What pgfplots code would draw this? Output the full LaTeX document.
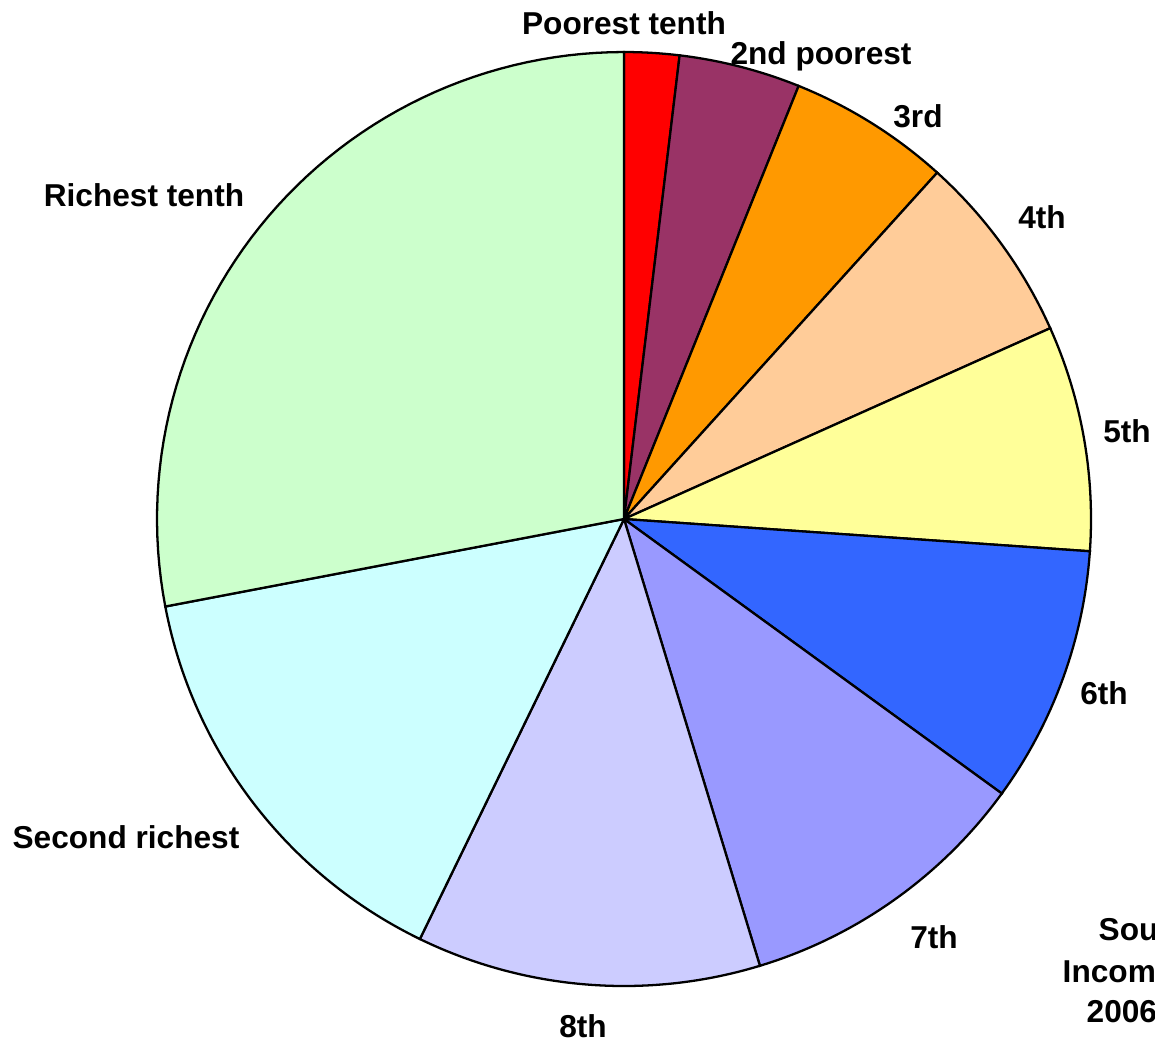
\documentclass[border=0pt]{standalone}
\usepackage{fontspec}
\setmainfont{Liberation Sans}[BoldFont={Liberation Sans Bold}]
\usepackage{pgfplots}
\pgfplotsset{compat=1.18}
\definecolor{c1}{HTML}{FF0000}
\definecolor{c2}{HTML}{993366}
\definecolor{c3}{HTML}{FF9900}
\definecolor{c4}{HTML}{FFCC99}
\definecolor{c5}{HTML}{FFFF99}
\definecolor{c6}{HTML}{3366FF}
\definecolor{c7}{HTML}{9999FF}
\definecolor{c8}{HTML}{CCCCFF}
\definecolor{c9}{HTML}{CCFFFF}
\definecolor{c10}{HTML}{CCFFCC}
\newcommand{\lbl}[1]{{\fontsize{9}{11}\selectfont\bfseries #1}}
\begin{document}
\begin{tikzpicture}
\begin{axis}[
  width=11.55cm, height=10.41cm, scale only axis,
  xmin=0, xmax=1155, ymin=0, ymax=1041, y dir=reverse,
  axis lines=none, clip=false,
  slice/.style={draw=black, line width=0.65pt, samples=60, variable=\t},
]
% slice boundaries in percent (cumulative): 1.9, 4.2, 5.6, 6.6, 7.8, 8.9, 10.3, 11.9, 14.8, 28.0
\addplot[slice, fill=c1, domain=0:1.9]    ({624+467*sin(3.6*\t)},{519-467*cos(3.6*\t)}) -- (axis cs:624,519) -- cycle;
\addplot[slice, fill=c2, domain=1.9:6.1]  ({624+467*sin(3.6*\t)},{519-467*cos(3.6*\t)}) -- (axis cs:624,519) -- cycle;
\addplot[slice, fill=c3, domain=6.1:11.7] ({624+467*sin(3.6*\t)},{519-467*cos(3.6*\t)}) -- (axis cs:624,519) -- cycle;
\addplot[slice, fill=c4, domain=11.7:18.3]({624+467*sin(3.6*\t)},{519-467*cos(3.6*\t)}) -- (axis cs:624,519) -- cycle;
\addplot[slice, fill=c5, domain=18.3:26.1]({624+467*sin(3.6*\t)},{519-467*cos(3.6*\t)}) -- (axis cs:624,519) -- cycle;
\addplot[slice, fill=c6, domain=26.1:35.0]({624+467*sin(3.6*\t)},{519-467*cos(3.6*\t)}) -- (axis cs:624,519) -- cycle;
\addplot[slice, fill=c7, domain=35.0:45.3]({624+467*sin(3.6*\t)},{519-467*cos(3.6*\t)}) -- (axis cs:624,519) -- cycle;
\addplot[slice, fill=c8, domain=45.3:57.2]({624+467*sin(3.6*\t)},{519-467*cos(3.6*\t)}) -- (axis cs:624,519) -- cycle;
\addplot[slice, fill=c9, domain=57.2:72.0]({624+467*sin(3.6*\t)},{519-467*cos(3.6*\t)}) -- (axis cs:624,519) -- cycle;
\addplot[slice, fill=c10, domain=72.0:100]({624+467*sin(3.6*\t)},{519-467*cos(3.6*\t)}) -- (axis cs:624,519) -- cycle;
\node[anchor=base] at (axis cs:624,34) {\lbl{Poorest tenth}};
\node[anchor=base] at (axis cs:821,64) {\lbl{2nd poorest}};
\node[anchor=base] at (axis cs:918,127) {\lbl{3rd}};
\node[anchor=base] at (axis cs:1042,228) {\lbl{4th}};
\node[anchor=base] at (axis cs:1127,442) {\lbl{5th}};
\node[anchor=base] at (axis cs:1104,704) {\lbl{6th}};
\node[anchor=base] at (axis cs:934,948) {\lbl{7th}};
\node[anchor=base] at (axis cs:583,1037) {\lbl{8th}};
\node[anchor=base] at (axis cs:126,848) {\lbl{Second richest}};
\node[anchor=base] at (axis cs:144,206) {\lbl{Richest tenth}};
\node[anchor=base west, inner sep=0pt] at (axis cs:1098,940) {\lbl{Source:}};
\node[anchor=base west, inner sep=0pt] at (axis cs:1062,982) {\lbl{Income}};
\node[anchor=base west, inner sep=0pt] at (axis cs:1086,1022) {\lbl{2006/07}};
\end{axis}
\pgfresetboundingbox
\useasboundingbox (current axis.south west) rectangle (current axis.north east);
\end{tikzpicture}
\end{document}
